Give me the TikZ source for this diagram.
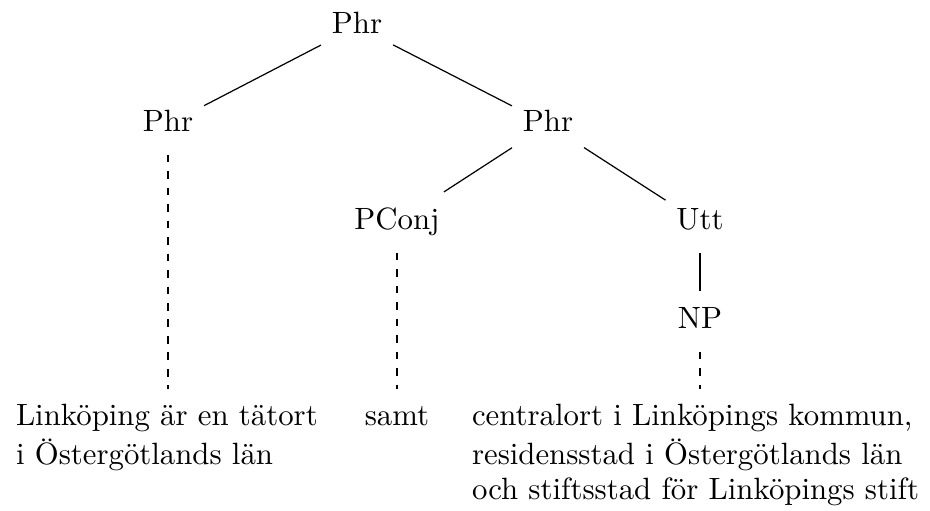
\documentclass[tikz,border=0pt]{standalone}
\usepackage{fontspec}
\begin{document}
\begin{tikzpicture}[x=0.328pt,y=-0.328pt,
  cat/.style={rectangle, inner xsep=3.6pt, inner ysep=4pt, outer sep=0pt,
    text height=8.5pt, text depth=3.5pt, anchor=base,
    font=\fontsize{10.1}{11.5}\selectfont},
  leaf/.style={rectangle, inner xsep=0pt, inner ysep=4pt, outer sep=0pt,
    align=left, font=\fontsize{10.1}{11.5}\selectfont},
  branch/.style={line width=0.4pt},
  elide/.style={line width=0.4pt, dash pattern=on 2.5pt off 2.9pt}]
\useasboundingbox (0,0) rectangle (930,511);

% category labels
\node[cat] (root) at (357,34)  {Phr};
\node[cat] (lphr) at (168,132) {Phr};
\node[cat] (rphr) at (548,132) {Phr};
\node[cat] (pc)   at (397,230) {PConj};
\node[cat] (utt)  at (700,230) {Utt};
\node[cat] (np)   at (700,329) {NP};

% leaves
\node[leaf, anchor=north west] (t1) at (16,389)
  {\strut Linköping är en tätort\\i Östergötlands län};
\node[leaf, anchor=north] (t2) at (397,389) {\strut samt};
\node[leaf, anchor=north west] (t3) at (472,389)
  {\strut centralort i Linköpings kommun,\\residensstad i Östergötlands län\\och stiftsstad för Linköpings stift};

% branches
\draw[branch] (root) -- (lphr);
\draw[branch] (root) -- (rphr);
\draw[branch] (rphr) -- (pc);
\draw[branch] (rphr) -- (utt);
\draw[branch] (utt) -- (np);

% elided subtrees
\draw[elide] (lphr.south) -- (lphr.south |- t1.north);
\draw[elide] (pc.south) -- (pc.south |- t2.north);
\draw[elide] (np.south) -- (np.south |- t3.north);
\end{tikzpicture}
\end{document}
